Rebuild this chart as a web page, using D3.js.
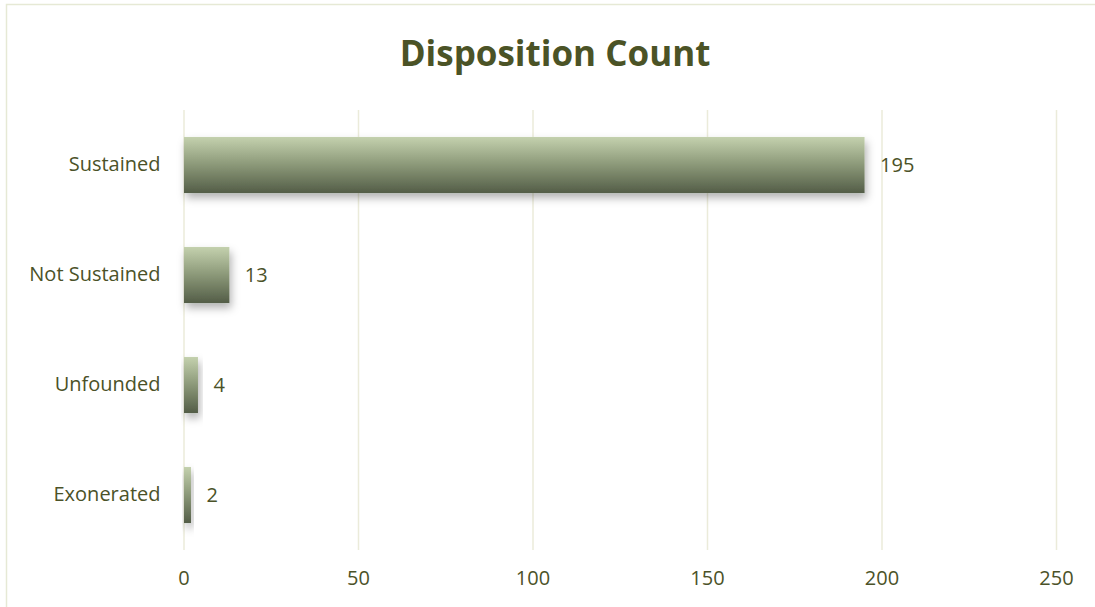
<!DOCTYPE html>
<html><head><meta charset="utf-8">
<script src="https://cdn.jsdelivr.net/npm/d3@7"></script>
<style>body{margin:0;background:#fff;} svg{display:block;}</style>
</head><body>
<script>
const categories = ["Sustained", "Not Sustained", "Unfounded", "Exonerated"];
const counts = [195, 13, 4, 2];
const xTicks = [0, 50, 100, 150, 200, 250];
const title = "Disposition Count";

const W = 1095, H = 607;
const svg = d3.select("body").append("svg").attr("width", W).attr("height", H);
const defs = svg.append("defs");
const grad = defs.append("linearGradient").attr("id", "barGrad").attr("x1", 0).attr("y1", 0).attr("x2", 0).attr("y2", 1);
grad.append("stop").attr("offset", "0%").attr("stop-color", "#c4d1ae");
grad.append("stop").attr("offset", "50%").attr("stop-color", "#8b9878");
grad.append("stop").attr("offset", "100%").attr("stop-color", "#535d47");
const filt = defs.append("filter").attr("id", "shadow").attr("x", "-20%").attr("y", "-20%").attr("width", "150%").attr("height", "170%");
filt.append("feDropShadow").attr("dx", 2).attr("dy", 5).attr("stdDeviation", 4).attr("flood-color", "#000").attr("flood-opacity", 0.3);

svg.append("rect").attr("x", 6.5).attr("y", 4.5).attr("width", W).attr("height", H)
  .attr("fill", "#fff").attr("stroke", "#e6e9d5").attr("stroke-width", 1.5);

const font = "'Open Sans', 'Noto Sans', sans-serif";
const txtColor = "#4b5228";

svg.append("text").attr("x", 555).attr("y", 66).attr("text-anchor", "middle")
  .attr("font-family", font).attr("font-weight", "bold").attr("font-size", 35)
  .attr("fill", "#4b5326").text(title);

const x = d3.scaleLinear().domain([0, 250]).range([183.5, 1056]);
const y = d3.scaleBand().domain(categories).range([110, 550]).paddingInner(0.49).paddingOuter(0.245);

const gx = svg.append("g").attr("transform", "translate(0,550)")
  .call(d3.axisBottom(x).tickValues(xTicks).tickSize(-440).tickPadding(19));
gx.select(".domain").remove();
gx.selectAll(".tick line").attr("stroke", "#ebebda").attr("stroke-width", 1.5);
gx.selectAll(".tick text").attr("font-family", font).attr("font-size", 20).attr("fill", txtColor).attr("dy", "0.8em");

const gy = svg.append("g").attr("transform", "translate(183.5,0)")
  .call(d3.axisLeft(y).tickSize(0).tickPadding(23));
gy.select(".domain").remove();
gy.selectAll(".tick text").attr("font-family", font).attr("font-size", 20).attr("fill", txtColor);

const data = categories.map((c, i) => ({c, v: counts[i]}));
svg.append("g").selectAll("rect").data(data).join("rect")
  .attr("x", x(0) + 0.5).attr("y", d => y(d.c))
  .attr("width", d => x(d.v) - x(0)).attr("height", y.bandwidth())
  .attr("fill", "url(#barGrad)").attr("filter", "url(#shadow)");

svg.append("g").selectAll("text").data(data).join("text")
  .attr("x", d => x(d.v) + 16).attr("y", d => y(d.c) + y.bandwidth() / 2)
  .attr("dy", "0.35em").attr("font-family", font).attr("font-size", 20).attr("fill", txtColor)
  .text(d => d.v);
</script>
</body></html>
